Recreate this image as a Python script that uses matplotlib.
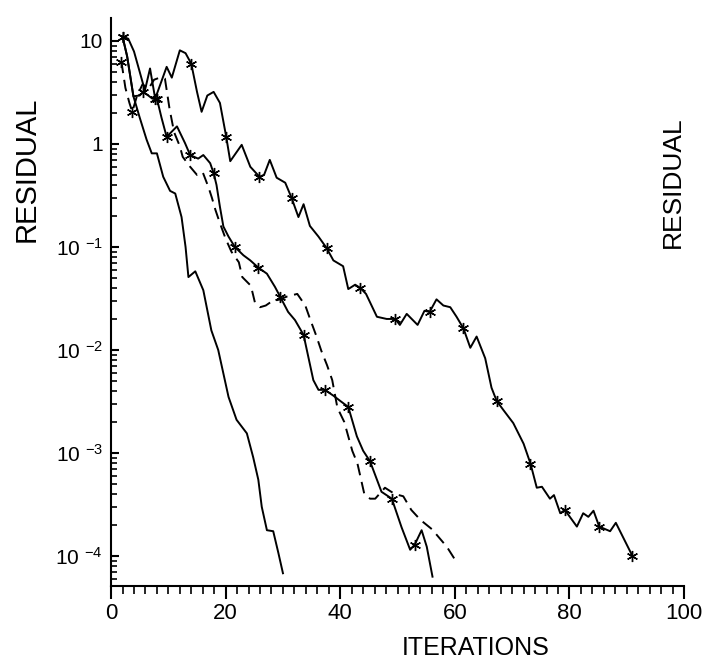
import numpy as np
import matplotlib.pyplot as plt
from matplotlib.ticker import FixedLocator, FixedFormatter, MultipleLocator, LogLocator, NullFormatter

plt.rcParams['font.family'] = ['Liberation Sans', 'DejaVu Sans']
plt.rcParams['mathtext.default'] = 'regular'

# fastest solid curve (no markers)
it_a = [2.0, 2.8, 3.9, 5.0, 6.2, 7.1, 8.0, 9.1, 10.3, 11.2, 12.3, 13.0, 13.5, 14.7,
        16.1, 17.5, 18.7, 20.5, 21.9, 23.7, 24.8, 25.7, 26.3, 27.2, 28.3, 29.2, 30.0]
res_a = [11.0, 7.1, 2.9, 1.8, 1.1, 0.81, 0.81, 0.48, 0.35, 0.33, 0.195, 0.1, 0.051, 0.058,
         0.038, 0.0155, 0.01, 0.0035, 0.0021, 0.00155, 0.00091, 0.00055, 0.0003, 1.78e-4,
         1.74e-4, 1.07e-4, 6.8e-5]

# dashed curve
it_b = [1.8, 2.5, 3.2, 3.7, 4.5, 5.5, 6.5, 7.5, 8.5, 9.4, 10.2, 11.0, 12.0, 12.5, 13.8,
        15.0, 16.0, 17.0, 17.6, 18.2, 19.0, 20.0, 21.0, 22.3, 22.9, 24.4, 25.1, 26.0,
        27.0, 28.0, 29.5, 30.7, 32.5, 33.9, 34.8, 35.8, 36.7, 37.7, 38.6, 39.5, 40.7,
        42.1, 43.0, 44.2, 45.2, 46.1, 47.8, 49.5, 51.0, 52.4, 54.0, 56.0, 58.6, 60.2]
res_b = [6.3, 3.5, 2.5, 2.05, 2.9, 3.8, 3.4, 4.2, 4.4, 4.3, 2.2, 1.3, 0.95, 0.75, 0.60,
         0.50, 0.53, 0.38, 0.30, 0.23, 0.17, 0.12, 0.09, 0.071, 0.051, 0.042, 0.029, 0.026,
         0.027, 0.0295, 0.031, 0.033, 0.035, 0.027, 0.0195, 0.0138, 0.0098, 0.0071, 0.0051,
         0.00275, 0.002, 0.00105, 0.00079, 0.0004, 0.00036, 0.00036, 0.00046, 0.0004,
         0.00038, 0.00028, 2.24e-4, 1.82e-4, 1.23e-4, 8.9e-5]
mark_b = [0, 3]

# middle solid curve
it_c = [2.0, 2.8, 3.9, 5.0, 5.6, 6.5, 7.2, 8.0, 8.8, 9.7, 10.5, 11.5, 12.9, 13.8, 15.2,
        16.1, 17.3, 17.9, 18.4, 19.0, 19.6, 20.5, 21.6, 23.1, 24.3, 25.7, 27.2, 28.6,
        29.5, 30.9, 32.1, 33.6, 34.4, 35.3, 36.2, 37.3, 38.8, 40.0, 41.4, 42.9, 44.0,
        45.2, 47.2, 49.0, 50.7, 52.2, 53.0, 54.2, 55.1, 56.1]
res_c = [11.0, 7.1, 2.9, 2.95, 3.2, 2.95, 2.75, 2.75, 1.8, 1.17, 1.3, 1.48, 1.02, 0.78,
         0.72, 0.78, 0.65, 0.52, 0.40, 0.245, 0.158, 0.126, 0.1, 0.083, 0.074, 0.063,
         0.055, 0.041, 0.033, 0.0234, 0.0195, 0.014, 0.0087, 0.0051, 0.0041, 0.0041,
         0.0036, 0.0032, 0.0028, 0.00145, 0.00105, 0.00083, 0.00042, 0.00036, 0.00019,
         1.15e-4, 1.29e-4, 1.78e-4, 1.23e-4, 6.3e-5]
mark_c = [0, 4, 7, 9, 13, 17, 22, 25, 28, 31, 35, 38, 41, 43, 46]

# slowest solid curve
it_d = [2.0, 3.0, 4.0, 5.0, 5.9, 6.8, 7.7, 9.7, 10.6, 12.0, 13.0, 14.0, 15.0, 15.8, 16.8,
        17.9, 19.0, 20.1, 20.8, 22.8, 24.3, 25.9, 26.7, 27.7, 28.9, 30.4, 31.5, 32.7,
        33.6, 34.7, 36.2, 37.6, 38.8, 40.5, 41.4, 42.6, 43.5, 44.5, 46.4, 48.1, 49.6,
        50.4, 51.6, 53.5, 54.7, 55.6, 56.8, 58.0, 59.2, 60.3, 61.5, 62.7, 63.8, 65.3,
        66.4, 67.3, 68.5, 70.2, 72.0, 73.2, 74.3, 75.2, 76.6, 77.3, 78.4, 79.2, 81.3,
        82.4, 83.3, 84.2, 85.2, 87.1, 88.1, 91.0]
res_d = [11.0, 10.5, 7.9, 5.0, 3.3, 5.4, 2.75, 5.6, 4.4, 8.1, 7.6, 6.0, 3.2, 2.05, 2.95,
         3.2, 2.5, 1.17, 0.68, 0.98, 0.60, 0.48, 0.50, 0.70, 0.47, 0.42, 0.30, 0.195,
         0.26, 0.16, 0.126, 0.098, 0.074, 0.065, 0.039, 0.043, 0.040, 0.035, 0.021, 0.020,
         0.020, 0.0175, 0.0224, 0.0175, 0.024, 0.0234, 0.031, 0.027, 0.026, 0.021, 0.0162,
         0.0105, 0.0135, 0.0083, 0.0043, 0.0032, 0.0026, 0.00195, 0.00123, 0.00079,
         0.00046, 0.00047, 0.00036, 0.00039, 0.00026, 0.00028, 1.93e-4, 2.6e-4, 2.4e-4,
         2.75e-4, 1.93e-4, 1.74e-4, 2.1e-4, 1.0e-4]
mark_d = [0, 6, 11, 17, 21, 26, 31, 36, 40, 45, 50, 55, 59, 65, 70, 73]

ytick_vals = [1e-4, 1e-3, 1e-2, 1e-1, 1, 10]
ytick_labels = ['10 $^{-4}$', '10 $^{-3}$', '10 $^{-2}$', '10 $^{-1}$', '1', '10']

fig = plt.figure(figsize=(7.03, 6.64), dpi=100)
ax = fig.add_axes([0.158, 0.1175, 0.815, 0.8555])

star = (6, 2, 0)
ax.plot(it_a, res_a, color='black', lw=1.4)
ax.plot(it_b, res_b, color='black', lw=1.4, ls=(0, (6, 3.5)),
        marker=star, ms=8, mew=1.0, markevery=mark_b)
ax.plot(it_c, res_c, color='black', lw=1.4, marker=star, ms=8, mew=1.0, markevery=mark_c)
ax.plot(it_d, res_d, color='black', lw=1.4, marker=star, ms=8, mew=1.0, markevery=mark_d)

ax.set_yscale('log')
ax.set_xlim(0, 100)
ax.set_ylim(10**-4.291, 10**1.223)

ax.spines['top'].set_visible(False)
ax.spines['right'].set_visible(False)
ax.spines['left'].set_linewidth(1.5)
ax.spines['bottom'].set_linewidth(1.5)

ax.xaxis.set_major_locator(MultipleLocator(20))
ax.xaxis.set_minor_locator(MultipleLocator(2))
ax.tick_params(axis='x', which='major', direction='out', length=9, width=1.5,
               labelsize=16, pad=3)
ax.tick_params(axis='x', which='minor', direction='out', length=6, width=1.2)

ax.yaxis.set_major_locator(FixedLocator(ytick_vals))
ax.yaxis.set_major_formatter(FixedFormatter(ytick_labels))
ax.yaxis.set_minor_locator(LogLocator(base=10, subs=np.arange(2, 10)))
ax.yaxis.set_minor_formatter(NullFormatter())
ax.tick_params(axis='y', which='major', direction='in', length=6, width=1.5,
               labelsize=15, pad=6)
ax.tick_params(axis='y', which='minor', direction='in', length=4.5, width=1.2)

fig.text(0.038, 0.745, 'RESIDUAL', rotation=90, fontsize=21, ha='center', va='center')
fig.text(0.957, 0.726, 'RESIDUAL', rotation=90, fontsize=19, ha='center', va='center')
fig.text(0.676, 0.024, 'ITERATIONS', fontsize=18, ha='center', va='center')

fig.savefig('out.png', dpi=100)
